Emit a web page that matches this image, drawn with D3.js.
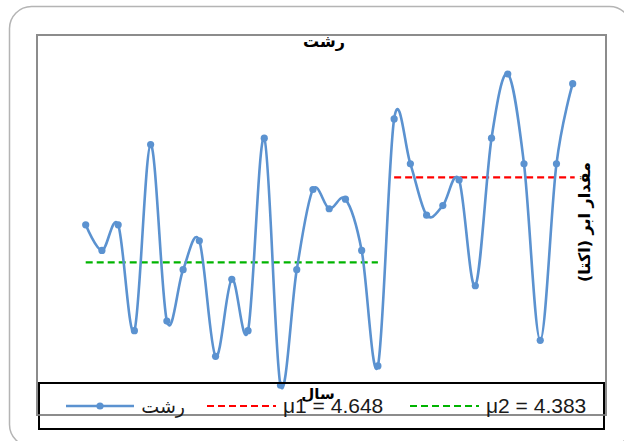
<!DOCTYPE html>
<html>
<head>
<meta charset="utf-8">
<script src="https://cdn.jsdelivr.net/npm/d3@7"></script>
<style>
  body { margin: 0; background: #fff; }
  svg { display: block; }
</style>
</head>
<body>
<svg id="chart" width="624" height="441"></svg>
<script>
// yearly cloud amount (okta), Rasht station
var years = [1, 2, 3, 4, 5, 6, 7, 8, 9, 10, 11, 12, 13, 14, 15, 16,
             17, 18, 19, 20, 21, 22, 23, 24, 25, 26, 27, 28, 29, 30, 31];
var cloud = [4.50, 4.42, 4.50, 4.17, 4.75, 4.20, 4.36, 4.45, 4.09, 4.33,
             4.17, 4.77, 4.00, 4.36, 4.61, 4.55, 4.58, 4.42, 4.06,
             4.83, 4.69, 4.53, 4.56, 4.64, 4.31, 4.77, 4.97, 4.69, 4.14, 4.69, 4.94];
// means before / after the break
var mu1 = 4.648, mu2 = 4.383;
var breakAt = 19; // first index of second segment

var seriesName = "رشت";
var titleText = "رشت";
var xTitle = "سال";
var yTitle = "مقدار ابر (اکتا)";

var svg = d3.select("#chart");

// chart area + plot frame
svg.append("rect")
    .attr("x", 9.5).attr("y", 6.5)
    .attr("width", 622).attr("height", 440)
    .attr("rx", 22).attr("ry", 22)
    .attr("fill", "#fff")
    .attr("stroke", "#b4b4b4")
    .attr("stroke-width", 1.5);

svg.append("rect")
    .attr("x", 37).attr("y", 35)
    .attr("width", 569).attr("height", 380)
    .attr("fill", "none")
    .attr("stroke", "#8c8c8c")
    .attr("stroke-width", 2);

var x = d3.scalePoint().domain(years).range([85.7, 572.7]);
var y = d3.scaleLinear().domain([4.0, 5.0]).range([385.2, 64.4]);

// mean lines
function meanLine(vals, colour) {
    svg.append("line")
        .attr("x1", x(vals[0]) ).attr("x2", x(vals[1]) + (vals[1] === years[years.length - 1] ? 2 : 0))
        .attr("y1", y(vals[2])).attr("y2", y(vals[2]))
        .attr("stroke", colour)
        .attr("stroke-width", 2.2)
        .attr("stroke-dasharray", "7,4");
}
meanLine([years[0], years[breakAt - 1], mu2], "#00b400");
meanLine([years[breakAt], years[years.length - 1], mu1], "#ff0000");

// smoothed series
var pts = years.map(function(d, i) { return [d, cloud[i]]; });
var line = d3.line()
    .x(function(d) { return x(d[0]); })
    .y(function(d) { return y(d[1]); })
    .curve(d3.curveCardinal.tension(0));

svg.append("path")
    .datum(pts)
    .attr("d", line)
    .attr("fill", "none")
    .attr("stroke", "#5b92d0")
    .attr("stroke-width", 2.6);

svg.selectAll(".pt")
    .data(pts)
    .enter()
    .append("circle")
    .attr("class", "pt")
    .attr("cx", function(d) { return x(d[0]); })
    .attr("cy", function(d) { return y(d[1]); })
    .attr("r", 3.6)
    .attr("fill", "#5b92d0");

// titles
svg.append("text")
    .attr("x", 324).attr("y", 47)
    .attr("text-anchor", "middle")
    .attr("font-family", "DejaVu Sans")
    .attr("font-weight", "bold")
    .attr("font-size", 16)
    .text(titleText);

svg.append("text")
    .attr("transform", "translate(590,222) rotate(-90)")
    .attr("text-anchor", "middle")
    .attr("font-family", "DejaVu Sans")
    .attr("font-weight", "bold")
    .attr("font-size", 16)
    .text(yTitle);

// legend
var lg = svg.append("g");
lg.append("rect")
    .attr("x", 39).attr("y", 383)
    .attr("width", 565).attr("height", 46)
    .attr("fill", "none")
    .attr("stroke", "#000")
    .attr("stroke-width", 2);

// plot bottom edge shows through the legend
lg.append("line")
    .attr("x1", 37).attr("x2", 606)
    .attr("y1", 415).attr("y2", 415)
    .attr("stroke", "#8c8c8c").attr("stroke-width", 1.5);

var ly = 406;
lg.append("line")
    .attr("x1", 66).attr("x2", 134).attr("y1", ly).attr("y2", ly)
    .attr("stroke", "#5b92d0").attr("stroke-width", 2.6);
lg.append("circle")
    .attr("cx", 100).attr("cy", ly).attr("r", 3.6)
    .attr("fill", "#5b92d0");
lg.append("text")
    .attr("x", 185).attr("y", 413)
    .attr("text-anchor", "end")
    .attr("font-family", "DejaVu Sans")
    .attr("font-size", 19)
    .attr("fill", "#1a1a1a")
    .text(seriesName);

var meanItems = [
    { colour: "#ff0000", x0: 207, x1: 276, tx: 283, label: "μ1 = " + mu1 },
    { colour: "#00b400", x0: 410, x1: 479, tx: 486, label: "μ2 = " + mu2 }
];
meanItems.forEach(function(m) {
    lg.append("line")
        .attr("x1", m.x0).attr("x2", m.x1).attr("y1", ly).attr("y2", ly)
        .attr("stroke", m.colour).attr("stroke-width", 2.2)
        .attr("stroke-dasharray", "7,4");
    lg.append("text")
        .attr("x", m.tx).attr("y", 413)
        .attr("font-family", "Liberation Sans")
        .attr("font-size", 21)
        .attr("fill", "#1a1a1a")
        .text(m.label);
});

// axis title sits on top of the legend, as in the original
svg.append("text")
    .attr("x", 318).attr("y", 399)
    .attr("text-anchor", "middle")
    .attr("font-family", "DejaVu Sans")
    .attr("font-weight", "bold")
    .attr("font-size", 15)
    .text(xTitle);
</script>
</body>
</html>
